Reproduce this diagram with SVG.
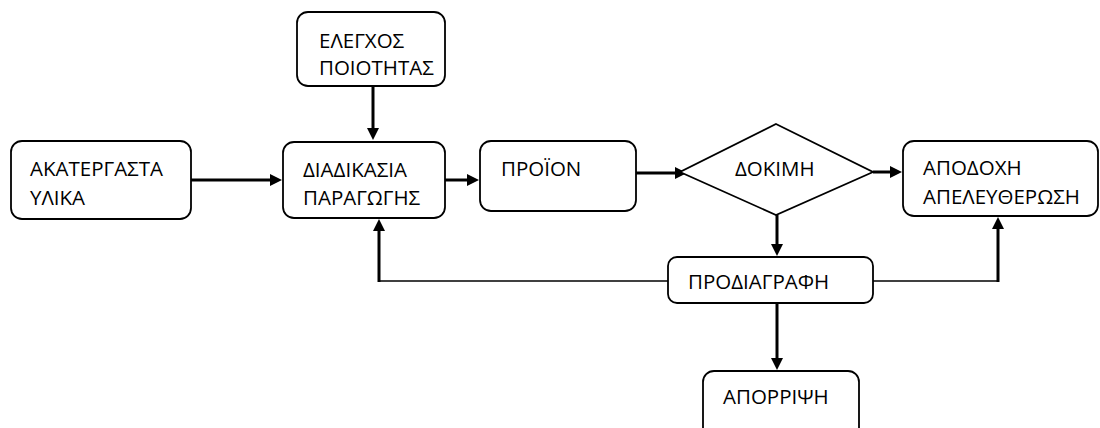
<svg xmlns="http://www.w3.org/2000/svg" width="1100" height="428" viewBox="0 0 1100 428">
<defs>
<marker id="ah" markerUnits="userSpaceOnUse" markerWidth="13" markerHeight="13" refX="2" refY="6" orient="auto">
<path d="M0,0 L12,6 L0,12 Z" fill="#000"/>
</marker>
<style>
.box{fill:#fff;stroke:#000;stroke-width:1.8}
.lbl{font-family:"Open Sans","Noto Sans","DejaVu Sans",sans-serif;font-size:20.5px;fill:#000}
.thick{fill:none;stroke:#000;stroke-width:3}
.thin{fill:none;stroke:#000;stroke-width:1.5}
</style>
</defs>
<rect width="1100" height="428" fill="#fff"/>
<g id="connectors">
<path class="thick" d="M373,86 V130" marker-end="url(#ah)"/>
<path class="thick" d="M191,180 H272" marker-end="url(#ah)"/>
<path class="thick" d="M445,180 H469" marker-end="url(#ah)"/>
<path class="thick" d="M636,173 H677" marker-end="url(#ah)"/>
<path class="thick" d="M873,172 H892" marker-end="url(#ah)"/>
<path class="thick" d="M777,215 V246" marker-end="url(#ah)"/>
<path class="thick" d="M777,303 V360" marker-end="url(#ah)"/>
<path class="thin" d="M668,281 H379"/>
<path class="thick" d="M379,282 V229" marker-end="url(#ah)"/>
<path class="thin" d="M873,281 H998"/>
<path class="thick" d="M998,282 V227" marker-end="url(#ah)"/>
</g>
<g id="elegxos">
<rect class="box" x="297" y="12" width="148" height="74" rx="11"/>
<text class="lbl" x="319" y="48">ΕΛΕΓΧΟΣ</text>
<text class="lbl" x="319" y="75">ΠΟΙΟΤΗΤΑΣ</text>
</g>
<g id="akatergasta">
<rect class="box" x="11" y="141" width="180" height="78" rx="11"/>
<text class="lbl" x="30" y="176">ΑΚΑΤΕΡΓΑΣΤΑ</text>
<text class="lbl" x="30" y="205">ΥΛΙΚΑ</text>
</g>
<g id="diadikasia">
<rect class="box" x="283" y="142" width="162" height="76" rx="11"/>
<text class="lbl" x="303" y="177">ΔΙΑΔΙΚΑΣΙΑ</text>
<text class="lbl" x="303" y="205">ΠΑΡΑΓΩΓΗΣ</text>
</g>
<g id="proion">
<rect class="box" x="480" y="141" width="156" height="70" rx="11"/>
<text class="lbl" x="501" y="176">ΠΡΟΪΟΝ</text>
</g>
<g id="dokimi">
<polygon class="box" points="776,124 873,172 776,215 680,172"/>
<text class="lbl" x="735" y="176">ΔΟΚΙΜΗ</text>
</g>
<g id="apodoxi">
<rect class="box" x="903" y="141" width="195" height="75" rx="11"/>
<text class="lbl" x="923" y="175">ΑΠΟΔΟΧΗ</text>
<text class="lbl" x="923" y="204">ΑΠΕΛΕΥΘΕΡΩΣΗ</text>
</g>
<g id="prodiagrafi">
<rect class="box" x="668" y="257" width="205" height="46" rx="9"/>
<text class="lbl" x="688" y="289">ΠΡΟΔΙΑΓΡΑΦΗ</text>
</g>
<g id="aporripsi">
<rect class="box" x="703" y="371" width="156" height="70" rx="11"/>
<text class="lbl" x="723" y="404">ΑΠΟΡΡΙΨΗ</text>
</g>
</svg>
